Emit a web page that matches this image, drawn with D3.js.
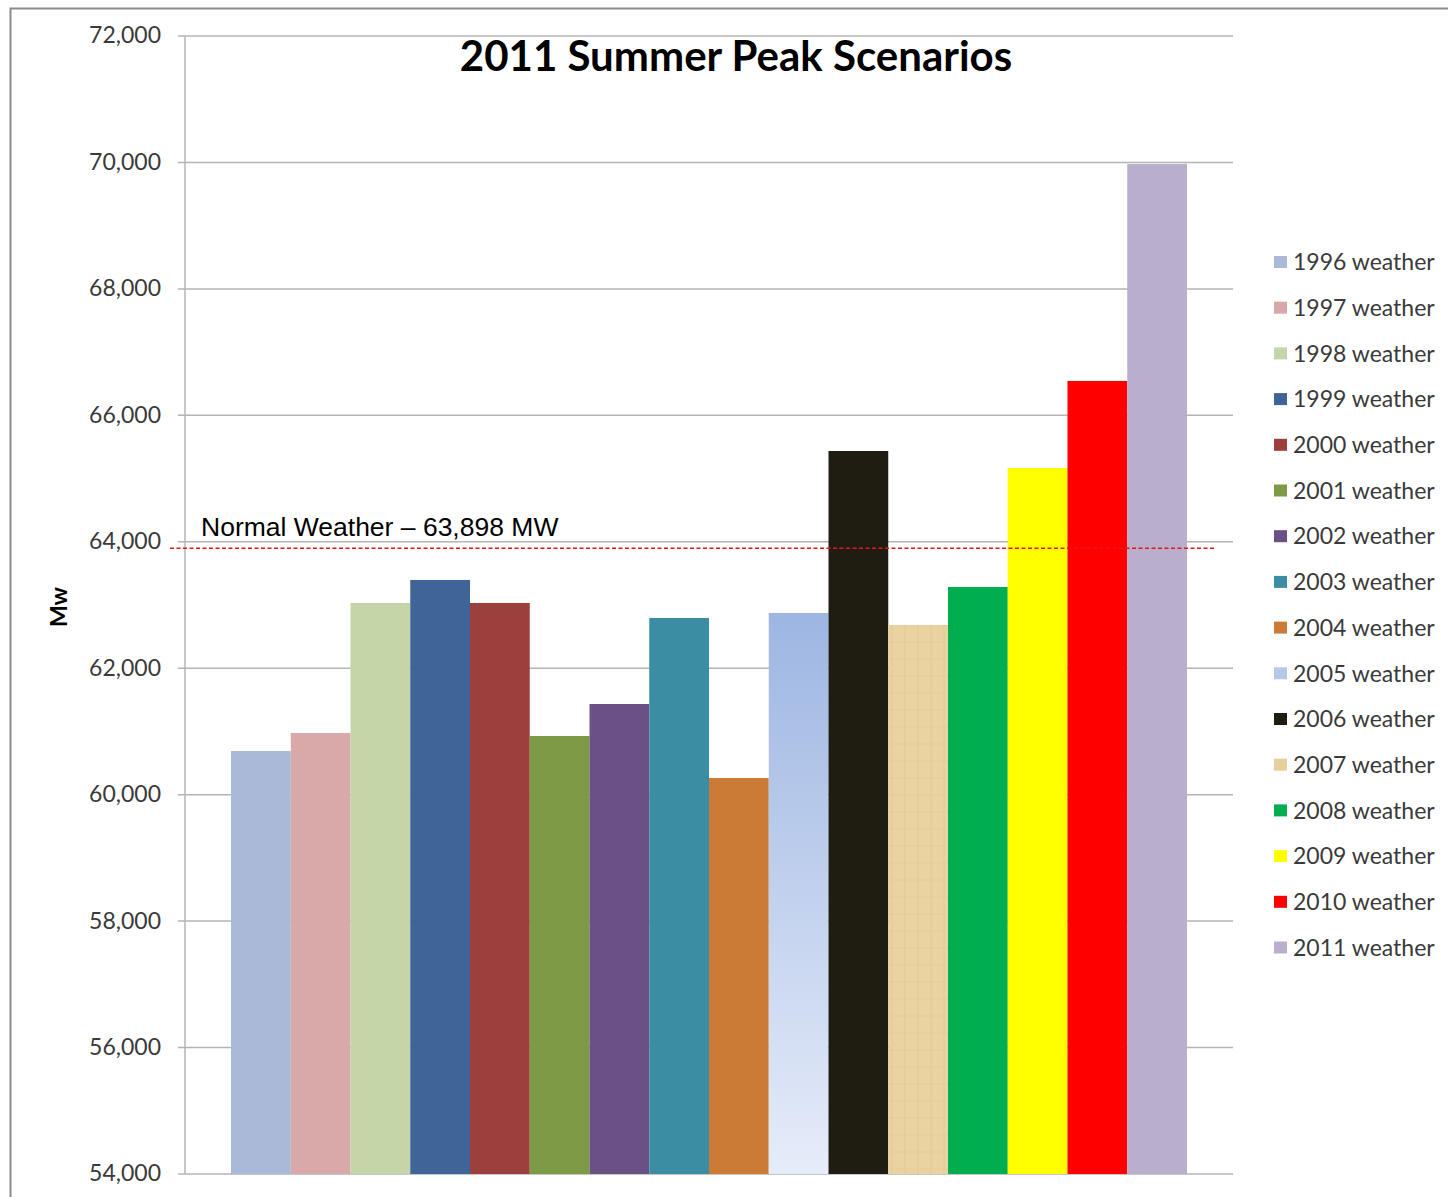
<!DOCTYPE html>
<html>
<head>
<meta charset="utf-8">
<script src="https://cdn.jsdelivr.net/npm/d3@7"></script>
<style>
  body { margin: 0; background: #fff; }
  .tick text { font-family: Lato, "Noto Sans", sans-serif; font-size: 23px; fill: #3a3a3a; }
</style>
</head>
<body>
<script>
// Chart data

let years = ["1996", "1997", "1998", "1999", "2000", "2001", "2002", "2003",
             "2004", "2005", "2006", "2007", "2008", "2009", "2010", "2011"];
let peaks = [60690, 60976, 63032, 63396, 63032, 60928, 61434, 62795,
             60264, 62874, 65436, 62684, 63285, 65167, 66544, 69976];
let colors = ["#a9b9d7", "#d9a8a8", "#c5d5a8", "#3f6598", "#9c3f3d", "#7e9a47", "#6a5085", "#3a8da3",
              "#cc7b37", "url(#grad2005)", "#1f1c12", "url(#tex2007)", "#00ae4f", "#ffff00", "#ff0000", "#b9aecb"];
let legendColors = ["#a9b9d7", "#d9a8a8", "#c5d5a8", "#3f6598", "#9c3f3d", "#7e9a47", "#6a5085", "#3a8da3",
                    "#cc7b37", "#b5c8ec", "#1f1c12", "#e6cf9c", "#00ae4f", "#ffff00", "#ff0000", "#b9aecb"];
let yTicks = [54000, 56000, 58000, 60000, 62000, 64000, 66000, 68000, 70000, 72000];
let normalWeather = 63898;

let svgWidth = 1448
let svgHeight = 1197

let margin = { top: 36, right: 215, bottom: 23, left: 185 };
let width = svgWidth - margin.left - margin.right;
let height = svgHeight - margin.top - margin.bottom;

let svg = d3.select("body")
  .append("svg")
  .attr("width", svgWidth)
  .attr("height", svgHeight);

// fills for the two special bars
let defs = svg.append("defs");
let grad = defs.append("linearGradient")
  .attr("id", "grad2005")
  .attr("x1", 0).attr("y1", 0).attr("x2", 0).attr("y2", 1);
grad.append("stop").attr("offset", "0%").attr("stop-color", "#9db6e2");
grad.append("stop").attr("offset", "100%").attr("stop-color", "#e6ecf9");

let tex = defs.append("pattern")
  .attr("id", "tex2007")
  .attr("patternUnits", "userSpaceOnUse")
  .attr("width", 13).attr("height", 17);
tex.append("rect").attr("width", 13).attr("height", 17).attr("fill", "#ead3a0");
tex.append("line").attr("x1", 5).attr("y1", 0).attr("x2", 5).attr("y2", 17)
  .attr("stroke", "#d6bc85").attr("stroke-width", 1).attr("opacity", 0.45);
tex.append("line").attr("x1", 0).attr("y1", 11).attr("x2", 13).attr("y2", 11)
  .attr("stroke", "#d9bf88").attr("stroke-width", 1).attr("opacity", 0.35);

// outer frame
svg.append("path")
  .attr("d", "M10.5,1197 V8.5 H1448")
  .attr("fill", "none")
  .attr("stroke", "#8c8c8c")
  .attr("stroke-width", 2);

let chartGroup = svg.append("g")
  .attr("transform", `translate(${margin.left}, ${margin.top})`);

// Scales
let xBandScale = d3.scaleBand()
  .domain(years)
  .range([0, width])
  .paddingInner(0)
  .paddingOuter(0.77);

let yLinearScale = d3.scaleLinear()
  .domain([54000, 72000])
  .range([height, 0]);

// Gridlines
chartGroup.append("g")
  .selectAll("line")
  .data(yTicks)
  .enter().append("line")
  .attr("x1", -7)
  .attr("x2", width)
  .attr("y1", d => yLinearScale(d))
  .attr("y2", d => yLinearScale(d))
  .attr("stroke", "#b4b4b4")
  .attr("stroke-width", 1.5);

// Left axis
let leftAxis = d3.axisLeft(yLinearScale)
  .tickValues(yTicks)
  .tickFormat(d3.format(","))
  .tickSize(7)
  .tickPadding(17);

let yAxis = chartGroup.append("g").call(leftAxis);
yAxis.select(".domain").remove();
yAxis.selectAll(".tick line").remove();
yAxis.selectAll(".tick text").attr("dy", "0.3em");

chartGroup.append("line")
  .attr("x1", 0).attr("x2", 0)
  .attr("y1", 0).attr("y2", height)
  .attr("stroke", "#b4b4b4")
  .attr("stroke-width", 1.5);

// Bars
chartGroup.selectAll(".bar")
  .data(years)
  .enter().append("rect")
  .attr("class", "bar")
  .attr("x", d => xBandScale(d))
  .attr("width", xBandScale.bandwidth())
  .attr("y", (d, i) => yLinearScale(peaks[i]))
  .attr("height", (d, i) => height - yLinearScale(peaks[i]))
  .attr("fill", (d, i) => colors[i]);

// Normal weather line
chartGroup.append("line")
  .attr("x1", -15)
  .attr("x2", width - 17)
  .attr("y1", yLinearScale(normalWeather))
  .attr("y2", yLinearScale(normalWeather))
  .attr("stroke", "#e8141b")
  .attr("stroke-width", 1.5)
  .attr("stroke-dasharray", "4,2.5");

chartGroup.append("text")
  .attr("x", 16)
  .attr("y", yLinearScale(normalWeather) - 12)
  .attr("font-family", "'Liberation Sans', Arial, sans-serif")
  .attr("font-size", 26.5)
  .attr("fill", "#000")
  .text("Normal Weather \u2013 63,898 MW");

// Title
svg.append("text")
  .attr("x", 736)
  .attr("y", 71)
  .attr("text-anchor", "middle")
  .attr("font-family", "Lato, 'Noto Sans', sans-serif")
  .attr("font-weight", "bold")
  .attr("font-size", 42)
  .attr("fill", "#000")
  .text("2011 Summer Peak Scenarios");

// Axis label
svg.append("text")
  .attr("transform", "translate(67, 607) rotate(-90)")
  .attr("text-anchor", "middle")
  .attr("font-family", "Lato, 'Noto Sans', sans-serif")
  .attr("font-weight", "bold")
  .attr("font-size", 23)
  .attr("fill", "#000")
  .text("Mw");

// Legend
let legend = svg.append("g")
  .attr("transform", "translate(1274, 262)");

let item = legend.selectAll(".item")
  .data(years)
  .enter().append("g")
  .attr("class", "item")
  .attr("transform", (d, i) => `translate(0, ${i * 45.7})`);

item.append("rect")
  .attr("x", 0)
  .attr("y", -6)
  .attr("width", 13)
  .attr("height", 12)
  .attr("fill", (d, i) => legendColors[i]);

item.append("text")
  .attr("x", 19)
  .attr("y", 0)
  .attr("dy", "0.36em")
  .attr("font-family", "Lato, 'Noto Sans', sans-serif")
  .attr("font-size", 23)
  .attr("fill", "#3a3a3a")
  .text(d => d + " weather");
</script>
</body>
</html>
